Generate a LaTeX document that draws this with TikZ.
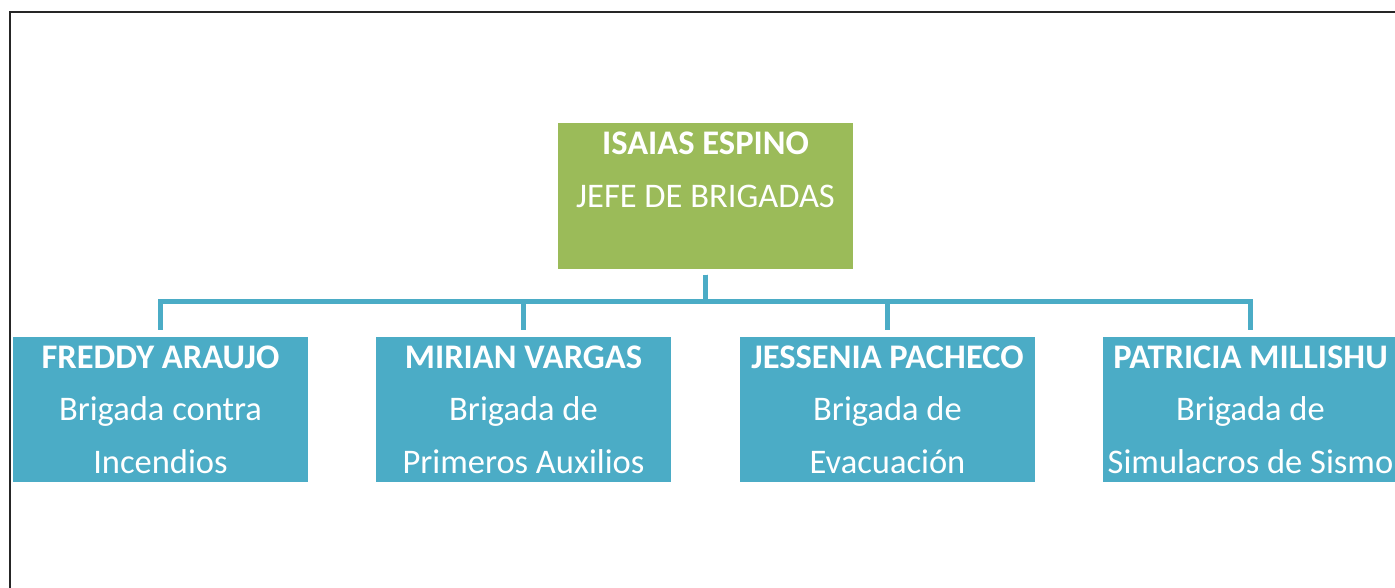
\documentclass[tikz,border=0pt]{standalone}
\usepackage{fontspec}
\setmainfont{Carlito}
\usepackage{tikz}

\definecolor{jefegreen}{HTML}{9BBB59}
\definecolor{brigblue}{HTML}{4BACC6}

\begin{document}
\begin{tikzpicture}[x=1pt,y=-1pt]
  \tikzstyle{box}=[rectangle,minimum width=295pt,minimum height=145pt,inner sep=0pt,
                   text=white,align=center,font=\fontsize{34.5}{52.5}\selectfont]
  \tikzstyle{jefe}=[box,fill=jefegreen]
  \tikzstyle{brigada}=[box,fill=brigblue]
  \tikzstyle{link}=[draw=brigblue,line width=5pt,shorten <=6pt,shorten >=7pt]
  \clip (0,0) rectangle (1395,588);
  % frame
  \draw[line width=2.5pt,black!85] (10,600) -- (10,12) -- (1400,12);
  % nodes
  \node[jefe] (boss) at (705.5,196) {\textbf{ISAIAS ESPINO}\\JEFE DE BRIGADAS\\\mbox{}};
  \node[brigada] (b1) at (160.5,409.5) {\textbf{FREDDY ARAUJO}\\Brigada contra\\Incendios};
  \node[brigada] (b2) at (523.5,409.5) {\textbf{MIRIAN VARGAS}\\Brigada de\\Primeros Auxilios};
  \node[brigada] (b3) at (887.5,409.5) {\textbf{JESSENIA PACHECO}\\Brigada de\\Evacuación};
  \node[brigada] (b4) at (1250.5,409.5) {\textbf{PATRICIA MILLISHU}\\Brigada de\\Simulacros de Sismo};
  \coordinate (bar) at (705.5,301);
  % connectors
  \draw[link] (boss.south) -- (bar) -| (b1.north);
  \draw[link] (boss.south) -- (bar) -| (b2.north);
  \draw[link] (boss.south) -- (bar) -| (b3.north);
  \draw[link] (boss.south) -- (bar) -| (b4.north);
\end{tikzpicture}
\end{document}
